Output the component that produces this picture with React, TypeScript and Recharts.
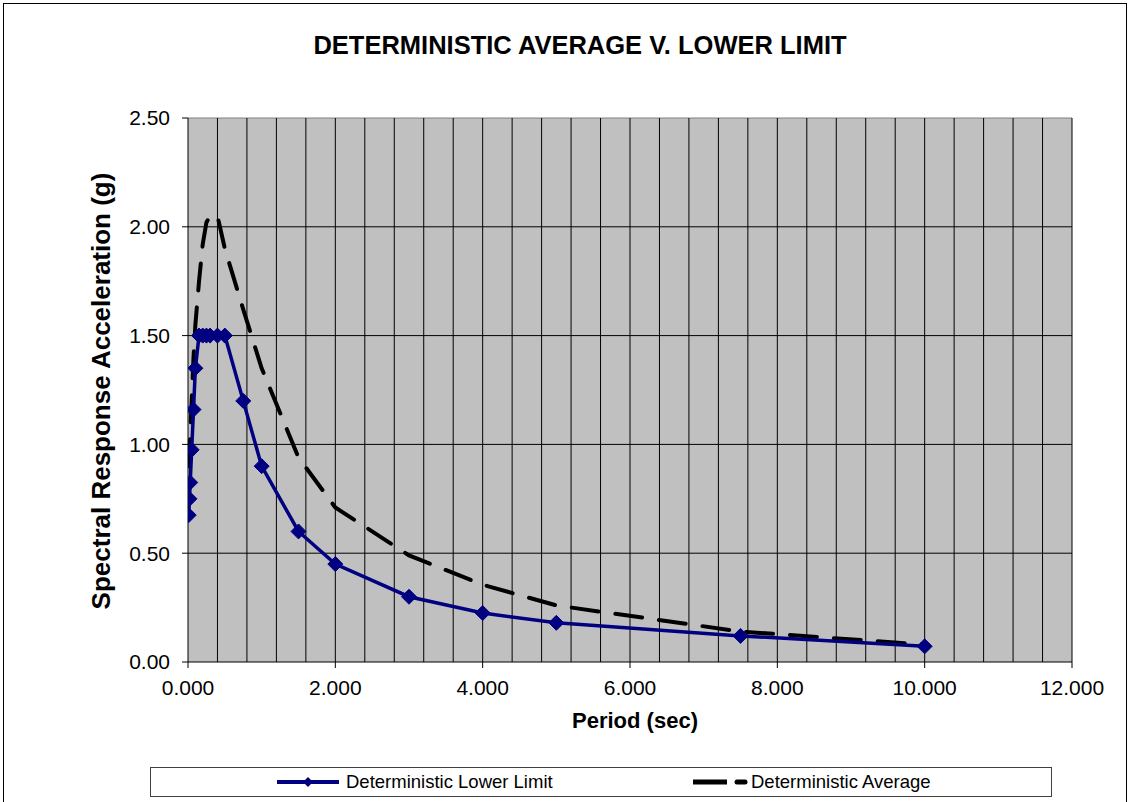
import React from "react";
import { LineChart, Line, XAxis, YAxis, ReferenceLine, ReferenceArea } from "recharts";

const NAVY = "#000080";
const FONT = '"Liberation Sans", Arial, sans-serif';

// periods (sec) and spectral accelerations (g)
const lowerPeriods = [0.01, 0.02, 0.03, 0.05, 0.075, 0.1, 0.15, 0.2, 0.25, 0.3, 0.4, 0.5, 0.75, 1.0, 1.5, 2.0, 3.0, 4.0, 5.0, 7.5, 10.0];
const lowerValues = [0.675, 0.75, 0.825, 0.975, 1.16, 1.35, 1.5, 1.5, 1.5, 1.5, 1.5, 1.5, 1.2, 0.9, 0.6, 0.45, 0.3, 0.225, 0.18, 0.12, 0.072];

const avgPeriods = [0.01, 0.02, 0.03, 0.05, 0.075, 0.1, 0.15, 0.2, 0.25, 0.3, 0.4, 0.5, 0.75, 1.0, 1.5, 2.0, 3.0, 4.0, 5.0, 7.5, 10.0];
const avgValues = [0.9, 0.97, 1.04, 1.2, 1.4, 1.55, 1.75, 1.92, 2.02, 2.05, 2.05, 1.9, 1.62, 1.35, 0.94, 0.71, 0.49, 0.355, 0.26, 0.14, 0.08];

const xTicks = [0, 2, 4, 6, 8, 10, 12];
const yTicks = [0, 0.5, 1.0, 1.5, 2.0, 2.5];
// minor vertical gridlines every 0.4 sec
const xGrid = Array.from({ length: 30 }, (_, i) => Math.round((i + 1) * 0.4 * 10) / 10);

const lowerData = lowerPeriods.map((x, i) => ({ x, y: lowerValues[i] }));
const avgData = avgPeriods.map((x, i) => ({ x, y: avgValues[i] }));

const Diamond = (props: any) => {
  const { cx, cy } = props;
  if (cx == null || cy == null) return null;
  const r = 7.5;
  return (
    <polygon
      key={`d-${cx}-${cy}`}
      points={`${cx},${cy - r} ${cx + r},${cy} ${cx},${cy + r} ${cx - r},${cy}`}
      fill={NAVY}
      stroke={NAVY}
      strokeWidth={1}
    />
  );
};

const centered = (cx: number, cy: number, w: number, h: number): React.CSSProperties => ({
  position: "absolute",
  left: cx - w / 2,
  top: cy - h / 2,
  width: w,
  height: h,
  lineHeight: `${h}px`,
  textAlign: "center",
  whiteSpace: "nowrap",
});

export default function App() {
  return (
    <div style={{ position: "absolute", left: 0, top: 0, width: 1130, height: 802, overflow: "hidden", background: "#fff", fontFamily: FONT }}>
      <div style={{ position: "absolute", left: 3, top: 3, width: 1122, height: 840, border: "1px solid #000" }} />

      <div style={{ ...centered(580, 45, 800, 30), fontSize: 25.5, fontWeight: "bold" }}>
        DETERMINISTIC AVERAGE V. LOWER LIMIT
      </div>

      <div style={{ ...centered(101, 391, 560, 30), fontSize: 26, fontWeight: "bold", transform: "rotate(-90deg)" }}>
        Spectral Response Acceleration (g)
      </div>

      <div style={{ ...centered(635, 721, 300, 28), fontSize: 22, fontWeight: "bold" }}>Period (sec)</div>

      <div style={{ position: "absolute", left: 0, top: 0 }}>
        <LineChart width={1130} height={802} margin={{ top: 118, right: 58, bottom: 110, left: 128 }}>
          <ReferenceArea x1={0} x2={12} y1={0} y2={2.5} fill="#C0C0C0" fillOpacity={1} stroke="none" ifOverflow="hidden" />
          {yTicks.slice(1, -1).map((v) => (
            <ReferenceLine key={`h${v}`} y={v} stroke="#000" strokeWidth={1} />
          ))}
          <ReferenceLine y={2.5} stroke="#808080" strokeWidth={1} />
          {xGrid.map((v) => (
            <ReferenceLine key={`v${v}`} x={v} stroke="#000" strokeWidth={1} />
          ))}
          <XAxis
            type="number"
            dataKey="x"
            domain={[0, 12]}
            ticks={xTicks}
            interval={0}
            allowDataOverflow
            tickFormatter={(v: number) => v.toFixed(3)}
            tick={{ fontSize: 21, fill: "#000", fontFamily: FONT }}
            stroke="#000"
            tickSize={6}
            tickMargin={12}
            height={30}
          />
          <YAxis
            type="number"
            dataKey="y"
            domain={[0, 2.5]}
            ticks={yTicks}
            interval={0}
            allowDataOverflow
            tickFormatter={(v: number) => v.toFixed(2)}
            tick={{ fontSize: 21, fill: "#000", fontFamily: FONT }}
            stroke="#000"
            tickSize={6}
            tickMargin={12}
            width={60}
          />
          <Line
            data={avgData}
            dataKey="y"
            type="linear"
            stroke="#000"
            strokeWidth={4}
            strokeDasharray="27 17"
            strokeLinecap="round"
            dot={false}
            activeDot={false}
            isAnimationActive={false}
          />
          <Line
            data={lowerData}
            dataKey="y"
            type="linear"
            stroke={NAVY}
            strokeWidth={3.5}
            dot={<Diamond />}
            activeDot={false}
            isAnimationActive={false}
          />
        </LineChart>
      </div>

      <div style={{ position: "absolute", left: 150, top: 767, width: 902, height: 30, border: "1px solid #404040", boxSizing: "border-box" }}>
        <svg style={{ position: "absolute", left: 0, top: 0 }} width={902} height={30}>
          <line x1={126} y1={14} x2={188} y2={14} stroke={NAVY} strokeWidth={4} />
          <polygon points="157,9 162,14 157,19 152,14" fill={NAVY} />
          <line x1={542} y1={14} x2={576} y2={14} stroke="#000" strokeWidth={5} />
          <line x1={586} y1={14} x2={594} y2={14} stroke="#000" strokeWidth={5} strokeLinecap="round" />
        </svg>
        <div style={{ position: "absolute", left: 195, top: 0, height: 28, lineHeight: "28px", fontSize: 18.5, whiteSpace: "nowrap" }}>
          Deterministic Lower Limit
        </div>
        <div style={{ position: "absolute", left: 600, top: 0, height: 28, lineHeight: "28px", fontSize: 18.5, whiteSpace: "nowrap" }}>
          Deterministic Average
        </div>
      </div>
    </div>
  );
}
